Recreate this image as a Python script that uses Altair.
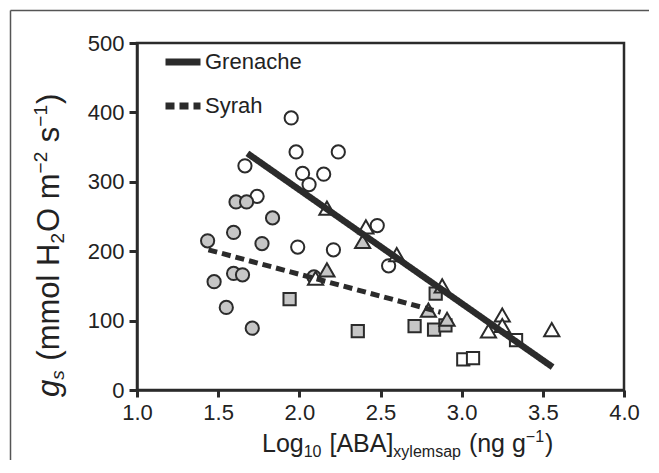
import altair as alt
import pandas as pd

# ---------------- data ----------------
open_circle_x = [1.95, 1.98, 2.24, 2.02, 2.15, 2.06, 1.665, 1.74, 1.99, 2.21, 2.48, 2.55]
open_circle_y = [392, 343, 343, 312, 311, 296, 323, 279, 206, 202, 237, 179]

gray_circle_x = [1.61, 1.675, 1.835, 1.595, 1.435, 1.77, 1.595, 1.65, 1.475, 1.55, 1.71, 2.09]
gray_circle_y = [271, 271, 248, 227, 215, 211, 168, 166, 156, 119, 89, 163]

open_tri_x = [2.17, 2.41, 2.60, 2.10, 2.88, 3.25, 3.165, 3.25, 3.555]
open_tri_y = [262, 235, 195, 161, 150, 108, 85, 93, 87]

gray_tri_x = [2.39, 2.17, 2.795, 2.91]
gray_tri_y = [214, 173, 115, 102]

open_sq_x = [3.01, 3.07, 3.335]
open_sq_y = [44, 46, 72]

gray_sq_x = [1.94, 2.36, 2.71, 2.83, 2.84, 2.90]
gray_sq_y = [131, 85, 92, 87, 139, 93]

cultivars = ["Grenache", "Syrah"]
fit_x = {"Grenache": [1.68, 3.56], "Syrah": [1.44, 2.87]}
fit_y = {"Grenache": [341, 33], "Syrah": [202, 112]}

x_ticks = [1.0, 1.5, 2.0, 2.5, 3.0, 3.5, 4.0]
y_ticks = [0, 100, 200, 300, 400, 500]

# ---------------- tables ----------------
def rows(shape, fill, xs, ys):
    return [{"shape": shape, "fill": fill, "x": a, "y": b} for a, b in zip(xs, ys)]

pts = pd.DataFrame(
    rows("circle", "open", open_circle_x, open_circle_y)
    + rows("circle", "gray", gray_circle_x, gray_circle_y)
    + rows("square", "open", open_sq_x, open_sq_y)
    + rows("square", "gray", gray_sq_x, gray_sq_y)
    + rows("triangle", "open", open_tri_x, open_tri_y)
    + rows("triangle", "gray", gray_tri_x, gray_tri_y)
)

lines = pd.DataFrame(
    [{"cultivar": c, "x": a, "y": b} for c in cultivars for a, b in zip(fit_x[c], fit_y[c])]
)

INK = "#2b2b2b"
FONT = "Liberation Sans"

xs = alt.Scale(domain=[1, 4], nice=False, zero=False)
ys = alt.Scale(domain=[0, 500], nice=False, zero=False)
fill_scale = alt.Scale(domain=["open", "gray"], range=["#ffffff", "#c6c6c6"])

x_enc = alt.X("x:Q", scale=xs, axis=alt.Axis(values=x_ticks, format=".1f", title=None,
                                             tickSize=7, labelPadding=5))
y_enc = alt.Y("y:Q", scale=ys, axis=alt.Axis(values=y_ticks, title=None,
                                             tickSize=8, labelPadding=5))

def point_layer(shape_name, vega_shape, size):
    return alt.Chart(pts).transform_filter(alt.datum.shape == shape_name).mark_point(
        shape=vega_shape, size=size, filled=True, opacity=1, fillOpacity=1,
        stroke=INK, strokeWidth=2
    ).encode(x=x_enc, y=y_enc, fill=alt.Fill("fill:N", scale=fill_scale, legend=None))

circles = point_layer("circle", "circle", 175)
squares = point_layer("square", "square", 150)
triangles = point_layer("triangle", "triangle-up", 230)

dash_scale = alt.Scale(domain=cultivars, range=[[1, 0], [9, 5]])
legend = alt.Legend(
    title=None, orient="none", legendX=25, legendY=-2,
    symbolType="stroke", symbolSize=1225, symbolStrokeWidth=7,
    symbolStrokeColor=INK, labelFont=FONT, labelFontSize=22,
    labelColor="#222", rowPadding=9, padding=0, labelOffset=1,
)

def fit_layer(name, width):
    return alt.Chart(lines).transform_filter(alt.datum.cultivar == name).mark_line(
        color=INK, strokeCap="butt", strokeWidth=width
    ).encode(x=x_enc, y=y_enc,
             strokeDash=alt.StrokeDash("cultivar:N", scale=dash_scale, legend=legend))

fit_g = fit_layer("Grenache", 6.5)
fit_s = fit_layer("Syrah", 5)

# ---------------- axis titles with sub/superscripts ----------------
W = {' ': 278, '(': 333, ')': 333, '[': 278, ']': 278, 'A': 667, 'B': 667, 'L': 556,
     'o': 556, 'g': 556, 'n': 556, 'x': 500, 'y': 500, 'l': 222, 'e': 556, 'm': 833,
     's': 500, 'a': 556, 'p': 556, '1': 556, '0': 556, '2': 556, 'H': 722, 'O': 778,
     '\u2212': 584}

def tw(s, size):
    return sum(W[c] for c in s) * size / 1000.0

one = alt.Data(values=[{}])

def piece(s, x, y, size, angle=0, italic=False):
    return alt.Chart(one).mark_text(
        text=s, font=FONT, fontSize=size, fontStyle="italic" if italic else "normal",
        align="left", baseline="alphabetic", angle=angle, color="#222"
    ).encode(x=alt.value(x), y=alt.value(y))

title_layers = []
# x title
F, f = 25, 16
xt = [("Log", F, 0), ("10", f, 5), (" [ABA]", F, 0), ("xylemsap", f, 5),
      (" (ng g", F, 0), ("\u22121", f, -10), (")", F, 0)]
cx, base_y = 125, 409
for s, size, dy in xt:
    lead = len(s) - len(s.lstrip(" "))
    cx += tw(" " * lead, size)
    body = s.lstrip(" ")
    title_layers.append(piece(body, cx, base_y + dy, size))
    cx += tw(body, size) + (1 if size == f else 0)

# y title (rotated)
F2, f2 = 31, 19
yt = [("g", F2, 0, True), ("s", f2, 5, True), (" (mmol H", F2, 0, False), ("2", f2, 5, False),
      ("O m", F2, 0, False), ("\u22122", f2, -12, False), (" s", F2, 0, False),
      ("\u22121", f2, -12, False), (")", F2, 0, False)]
base_x, cy = -78, 354
for s, size, dy, it in yt:
    lead = len(s) - len(s.lstrip(" "))
    cy -= tw(" " * lead, size)
    body = s.lstrip(" ")
    title_layers.append(piece(body, base_x + dy, cy, size, angle=270, italic=it))
    cy -= tw(body, size) + (1 if size == f2 else 0)

# figure frame (top and left edges)
frame_left = alt.Chart(one).mark_rule(color="#555", strokeWidth=1.5).encode(
    x=alt.value(-126.5), y=alt.value(-32.5), y2=alt.value(460))
frame_top = alt.Chart(one).mark_rule(color="#555", strokeWidth=1.5).encode(
    x=alt.value(-126.5), x2=alt.value(540), y=alt.value(-32.5))

chart = alt.layer(
    circles, squares, triangles, fit_g, fit_s, frame_left, frame_top, *title_layers
).properties(
    width=487, height=347,
    autosize=alt.AutoSizeParams(type="none"),
    padding={"left": 129, "top": 35, "right": 25, "bottom": 70},
).configure_view(
    stroke=INK, strokeWidth=2.5
).configure_axis(
    grid=False, domainColor=INK, domainWidth=2.5, tickColor=INK, tickWidth=3,
    labelFont=FONT, labelFontSize=22, labelColor="#222",
    labelFlush=False, labelOverlap=False, labelBound=False
)

chart.save("out.html", embed_options={"renderer": "svg", "actions": False})
